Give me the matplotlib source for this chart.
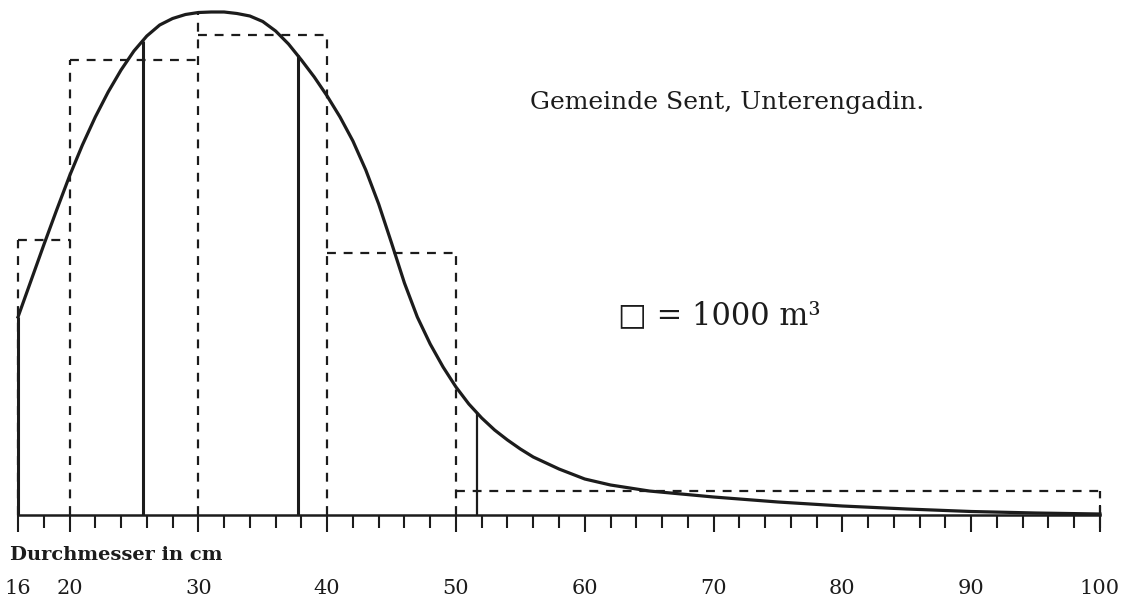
import numpy as np
from matplotlib import pyplot as plt

# Stärkeklassen (cm) und Holzmasse je Klasse (m3)
klassen = [16, 20, 30, 40, 50, 100]
masse = [22000, 91000, 96000, 52500, 24000]

# Massenkurve: m3 je cm Durchmesser
kurve_d = [16, 17, 18, 19, 20, 21, 22, 23, 24, 25, 26, 27, 28, 29, 30, 31, 32,
           33, 34, 35, 36, 37, 38, 39, 40, 41, 42, 43, 44, 45, 46, 47, 48, 49,
           50, 51, 52, 53, 54, 55, 56, 58, 60, 62, 65, 70, 75, 80, 85, 90, 95, 100]
kurve_m = [3960, 4680, 5400, 6100, 6780, 7400, 7960, 8460, 8900, 9280, 9580,
           9800, 9930, 10010, 10050, 10060, 10060, 10030, 9980, 9870, 9680,
           9420, 9100, 8760, 8380, 7960, 7480, 6900, 6220, 5440, 4640, 3960,
           3420, 2960, 2560, 2220, 1940, 1700, 1500, 1320, 1160, 920, 720, 600,
           480, 360, 260, 180, 120, 70, 40, 20]

# Mittelstämme (senkrechte Linien)
mittel_d = [16, 25.7, 37.7, 51.6]
mittel_lw = [2.2, 2.2, 2.2, 1.6]

tick_major = [16, 20, 30, 40, 50, 60, 70, 80, 90, 100]
tick_minor = np.arange(16, 101, 2)

ink = '#1c1c1c'

breite = np.diff(klassen)
hoehe = np.array(masse) / breite

fig = plt.figure(figsize=(11.23, 6.03), dpi=100)
ax = fig.add_axes([18 / 1123, 88 / 603, 1082 / 1123, 515 / 603])
ax.set_xlim(16, 100)
ax.set_ylim(0, 10300)

dash = (0, (4, 3.5))
# Säulen (gestrichelt)
ax.hlines(hoehe, klassen[:-1], klassen[1:], colors=ink, lw=1.6, linestyles=[dash], clip_on=False)
kanten_h = []
for i, k in enumerate(klassen):
    links = hoehe[i - 1] if i > 0 else 0
    rechts = hoehe[i] if i < len(hoehe) else 0
    kanten_h.append(max(links, rechts))
kanten_h[2] = np.interp(klassen[2], kurve_d, kurve_m)
ax.vlines(klassen, 0, kanten_h, colors=ink, lw=1.6, linestyles=[dash], clip_on=False)

# Kurve und Mittelstämme
ax.plot(kurve_d, kurve_m, color=ink, lw=2.3, solid_joinstyle='round', clip_on=False)
for d, w in zip(mittel_d, mittel_lw):
    ax.vlines(d, 0, np.interp(d, kurve_d, kurve_m), colors=ink, lw=w, clip_on=False)

# Achse
for s in ['left', 'right', 'top']:
    ax.spines[s].set_visible(False)
ax.spines['bottom'].set_linewidth(1.8)
ax.spines['bottom'].set_color(ink)
ax.set_yticks([])
ax.set_xticks(tick_major)
ax.set_xticks(tick_minor, minor=True)
ax.set_xticklabels([str(t) for t in tick_major], fontfamily='DejaVu Serif', fontsize=15)
ax.tick_params(axis='x', which='major', length=12, width=1.5, color=ink, pad=34, labelcolor=ink)
ax.tick_params(axis='x', which='minor', length=9, width=1.5, color=ink)
ax.vlines(ax.get_xlim()[1], -260, 200, colors=ink, lw=1.5, clip_on=False)

fig.text(10 / 1123, 1 - 555 / 603, 'Durchmesser in cm', fontfamily='DejaVu Serif',
         fontsize=14, fontweight='bold', color=ink, ha='left', va='center')
fig.text(530 / 1123, 1 - 103 / 603, 'Gemeinde Sent, Unterengadin.', fontfamily='DejaVu Serif',
         fontsize=18, color=ink, ha='left', va='center')
fig.text(719 / 1123, 1 - 316 / 603, '\u25a1 = 1000 m\u00b3', fontfamily=['DejaVu Serif', 'DejaVu Sans'],
         fontsize=22, color=ink, ha='center', va='center')

fig.savefig('out.png', dpi=100, facecolor='white')
